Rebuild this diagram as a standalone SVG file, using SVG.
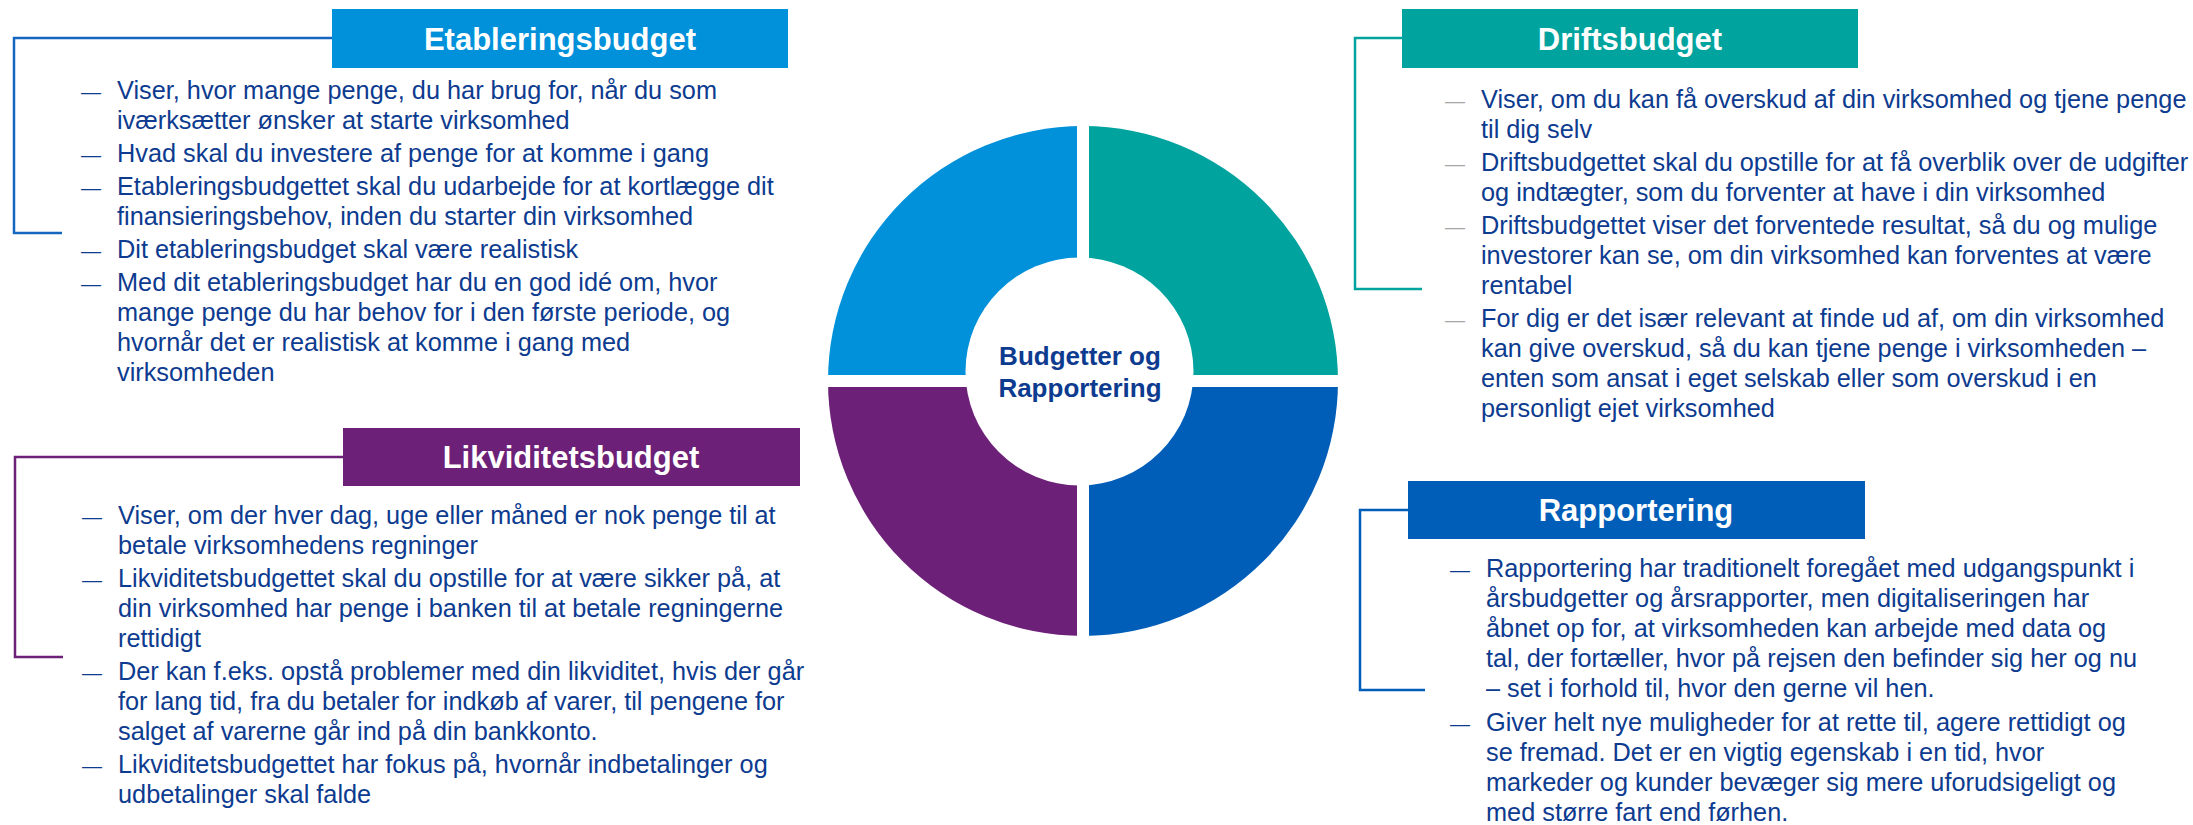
<svg xmlns="http://www.w3.org/2000/svg" width="2193" height="825" viewBox="0 0 2193 825">
<style>
.hdr{font-family:"Liberation Sans",Arial,sans-serif;font-weight:bold;font-size:31px;fill:#fff;text-anchor:middle}
.body{font-family:"Liberation Sans",Arial,sans-serif;font-size:25.3px;fill:#0D3B8F}
.dash{font-family:"Liberation Sans",Arial,sans-serif;font-size:20px;fill:#0D3B8F}
.dashg{fill:#A6A6A6}
.ctr{font-family:"Liberation Sans",Arial,sans-serif;font-weight:bold;font-size:26px;fill:#0D3B8F;text-anchor:middle}
.conn{fill:none;stroke-width:2.5}
</style>
<rect width="2193" height="825" fill="#fff"/>
<g id="ring">
<path d="M1083 381 L828 381 A255 255 0 0 1 1083 126 Z" fill="#0091DA"/>
<path d="M1083 381 L1083 126 A255 255 0 0 1 1338 381 Z" fill="#00A39E"/>
<path d="M1083 381 L1338 381 A255 255 0 0 1 1083 636 Z" fill="#005EB8"/>
<path d="M1083 381 L1083 636 A255 255 0 0 1 828 381 Z" fill="#6D2077"/>
<rect x="1077" y="120" width="12" height="522" fill="#fff"/>
<rect x="822" y="375" width="522" height="12" fill="#fff"/>
<circle cx="1079.5" cy="371.5" r="114" fill="#fff"/>
</g>
<g id="center">
<text class="ctr" x="1080" y="365">Budgetter og</text>
<text class="ctr" x="1080" y="397">Rapportering</text>
</g>
<g id="connectors">
<polyline class="conn" stroke="#1466BE" points="332,38 14,38 14,233 62,233"/>
<polyline class="conn" stroke="#00A39E" points="1403,38 1355,38 1355,289 1422,289"/>
<polyline class="conn" stroke="#6D2077" points="343,457 15,457 15,657 63,657"/>
<polyline class="conn" stroke="#005EB8" points="1408,510 1360,510 1360,690 1425,690"/>
</g>
<g id="etableringsbudget">
<rect x="332" y="9" width="456" height="59" fill="#0091DA"/>
<text class="hdr" x="560" y="50">Etableringsbudget</text>
<text class="dash"><tspan x="81" y="99">—</tspan><tspan x="81" y="162">—</tspan><tspan x="81" y="195">—</tspan><tspan x="81" y="258">—</tspan><tspan x="81" y="291">—</tspan></text>
<text class="body">
<tspan x="117" y="99">Viser, hvor mange penge, du har brug for, når du som</tspan>
<tspan x="117" y="129">iværksætter ønsker at starte virksomhed</tspan>
<tspan x="117" y="162">Hvad skal du investere af penge for at komme i gang</tspan>
<tspan x="117" y="195">Etableringsbudgettet skal du udarbejde for at kortlægge dit</tspan>
<tspan x="117" y="225">finansieringsbehov, inden du starter din virksomhed</tspan>
<tspan x="117" y="258">Dit etableringsbudget skal være realistisk</tspan>
<tspan x="117" y="291">Med dit etableringsbudget har du en god idé om, hvor</tspan>
<tspan x="117" y="321">mange penge du har behov for i den første periode, og</tspan>
<tspan x="117" y="351">hvornår det er realistisk at komme i gang med</tspan>
<tspan x="117" y="381">virksomheden</tspan>
</text>
</g>
<g id="driftsbudget">
<rect x="1402" y="9" width="456" height="59" fill="#00A39E"/>
<text class="hdr" x="1630" y="50">Driftsbudget</text>
<text class="dash dashg"><tspan x="1445" y="108">—</tspan><tspan x="1445" y="171">—</tspan><tspan x="1445" y="234">—</tspan><tspan x="1445" y="327">—</tspan></text>
<text class="body">
<tspan x="1481" y="108">Viser, om du kan få overskud af din virksomhed og tjene penge</tspan>
<tspan x="1481" y="138">til dig selv</tspan>
<tspan x="1481" y="171">Driftsbudgettet skal du opstille for at få overblik over de udgifter</tspan>
<tspan x="1481" y="201">og indtægter, som du forventer at have i din virksomhed</tspan>
<tspan x="1481" y="234">Driftsbudgettet viser det forventede resultat, så du og mulige</tspan>
<tspan x="1481" y="264">investorer kan se, om din virksomhed kan forventes at være</tspan>
<tspan x="1481" y="294">rentabel</tspan>
<tspan x="1481" y="327">For dig er det især relevant at finde ud af, om din virksomhed</tspan>
<tspan x="1481" y="357">kan give overskud, så du kan tjene penge i virksomheden –</tspan>
<tspan x="1481" y="387">enten som ansat i eget selskab eller som overskud i en</tspan>
<tspan x="1481" y="417">personligt ejet virksomhed</tspan>
</text>
</g>
<g id="likviditetsbudget">
<rect x="343" y="428" width="457" height="58" fill="#6D2077"/>
<text class="hdr" x="571" y="468">Likviditetsbudget</text>
<text class="dash"><tspan x="82" y="524">—</tspan><tspan x="82" y="587">—</tspan><tspan x="82" y="680">—</tspan><tspan x="82" y="773">—</tspan></text>
<text class="body">
<tspan x="118" y="524">Viser, om der hver dag, uge eller måned er nok penge til at</tspan>
<tspan x="118" y="554">betale virksomhedens regninger</tspan>
<tspan x="118" y="587">Likviditetsbudgettet skal du opstille for at være sikker på, at</tspan>
<tspan x="118" y="617">din virksomhed har penge i banken til at betale regningerne</tspan>
<tspan x="118" y="647">rettidigt</tspan>
<tspan x="118" y="680">Der kan f.eks. opstå problemer med din likviditet, hvis der går</tspan>
<tspan x="118" y="710">for lang tid, fra du betaler for indkøb af varer, til pengene for</tspan>
<tspan x="118" y="740">salget af varerne går ind på din bankkonto.</tspan>
<tspan x="118" y="773">Likviditetsbudgettet har fokus på, hvornår indbetalinger og</tspan>
<tspan x="118" y="803">udbetalinger skal falde</tspan>
</text>
</g>
<g id="rapportering">
<rect x="1408" y="481" width="457" height="58" fill="#005EB8"/>
<text class="hdr" x="1636" y="521">Rapportering</text>
<text class="dash"><tspan x="1450" y="577">—</tspan><tspan x="1450" y="731">—</tspan></text>
<text class="body">
<tspan x="1486" y="577">Rapportering har traditionelt foregået med udgangspunkt i</tspan>
<tspan x="1486" y="607">årsbudgetter og årsrapporter, men digitaliseringen har</tspan>
<tspan x="1486" y="637">åbnet op for, at virksomheden kan arbejde med data og</tspan>
<tspan x="1486" y="667">tal, der fortæller, hvor på rejsen den befinder sig her og nu</tspan>
<tspan x="1486" y="697">– set i forhold til, hvor den gerne vil hen.</tspan>
<tspan x="1486" y="731">Giver helt nye muligheder for at rette til, agere rettidigt og</tspan>
<tspan x="1486" y="761">se fremad. Det er en vigtig egenskab i en tid, hvor</tspan>
<tspan x="1486" y="791">markeder og kunder bevæger sig mere uforudsigeligt og</tspan>
<tspan x="1486" y="821">med større fart end førhen.</tspan>
</text>
</g>
</svg>
